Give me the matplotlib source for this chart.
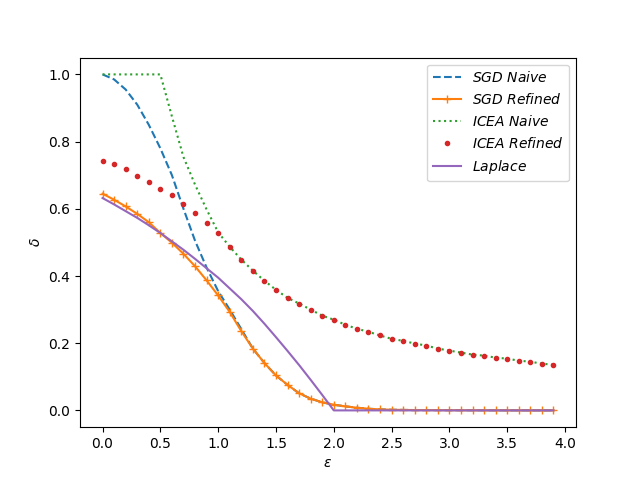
import matplotlib
matplotlib.use("Agg")
import matplotlib.pyplot as plt

eps = [round(0.1 * i, 1) for i in range(40)]

sgd_refined = [0.645, 0.627, 0.607, 0.585, 0.560, 0.528, 0.499, 0.466, 0.429, 0.387,
               0.342, 0.293, 0.236, 0.184, 0.141, 0.104, 0.076, 0.051, 0.035, 0.024,
               0.017, 0.012, 0.008, 0.005, 0.003, 0.002, 0.0015, 0.001, 0.001, 0.0008,
               0.0006, 0.0005, 0.0004, 0.0003, 0.0003, 0.0002, 0.0002, 0.0001, 0.0001, 0.0001]

sgd_naive = [1.0, 0.985, 0.955, 0.910, 0.850, 0.780, 0.700, 0.600, 0.505, 0.425,
             0.355, 0.300, 0.242] + sgd_refined[13:]

icea_refined = [0.743, 0.732, 0.717, 0.698, 0.681, 0.660, 0.640, 0.615, 0.588, 0.559,
                0.527, 0.487, 0.449, 0.416, 0.386, 0.359, 0.335, 0.318, 0.300, 0.282,
                0.270, 0.255, 0.243, 0.234, 0.223, 0.213, 0.207, 0.199, 0.193, 0.184,
                0.178, 0.172, 0.166, 0.163, 0.157, 0.154, 0.148, 0.145, 0.139, 0.136]

icea_naive = [1.0, 1.0, 1.0, 1.0, 1.0, 1.0, 0.875, 0.754, 0.672, 0.598,
              0.530, 0.487] + icea_refined[12:]

laplace = [0.632, 0.613, 0.593, 0.573, 0.551, 0.528, 0.503, 0.478, 0.451, 0.423,
           0.395, 0.363, 0.331, 0.296, 0.258, 0.218, 0.177, 0.135, 0.091, 0.046,
           0.0] + [0.0] * 19

fig, ax = plt.subplots(figsize=(6.4, 4.8), dpi=100)
ax.plot(eps, sgd_naive, '--', color='C0', label=r'$SGD\ Naive$')
ax.plot(eps, sgd_refined, '-', marker='+', color='C1', label=r'$SGD\ Refined$')
ax.plot(eps, icea_naive, ':', color='C2', label=r'$ICEA\ Naive$')
ax.plot(eps, icea_refined, '.', color='C3', label=r'$ICEA\ Refined$')
ax.plot(eps, laplace, '-', color='C4', label=r'$Laplace$')
ax.set_xlabel(r'$\epsilon$')
ax.set_ylabel(r'$\delta$')
ax.legend(loc='upper right')
fig.savefig('out.png', dpi=100)
